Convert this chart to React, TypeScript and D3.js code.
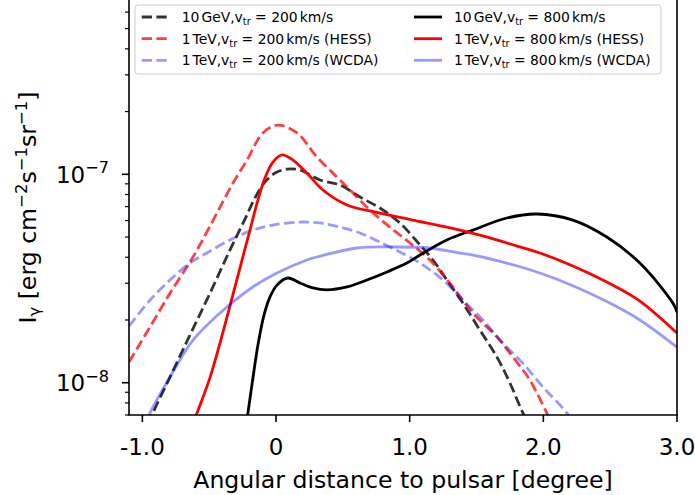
import React from "react";
import * as d3 from "d3";

// ---- data (x in degree, intensity in erg cm^-2 s^-1 sr^-1) ----
const gev10_200: [number, number][] = [
  [-0.95, 6.3e-9], [-0.92, 7.16e-9], [-0.793, 1.065e-8], [-0.644, 1.694e-8], [-0.494, 2.69e-8],
  [-0.345, 4.33e-8], [-0.232, 6.1e-8], [-0.158, 7.7e-8], [-0.083, 9.18e-8],
  [-0.008, 1.014e-7], [0.082, 1.06e-7], [0.179, 1.048e-7], [0.329, 9.39e-8], [0.478, 8.89e-8],
  [0.628, 7.78e-8], [0.777, 6.89e-8], [0.927, 5.84e-8], [1.077, 4.58e-8], [1.174, 3.88e-8],
  [1.278, 3.11e-8], [1.398, 2.41e-8], [1.525, 1.79e-8], [1.652, 1.33e-8], [1.75, 9.97e-9],
  [1.847, 7.16e-9], [1.9, 6.2e-9],
];
const tev1_200_hess: [number, number][] = [
  [-1.1, 1.257e-8], [-0.943, 1.85e-8], [-0.793, 2.69e-8], [-0.666, 3.6e-8], [-0.591, 4.33e-8],
  [-0.442, 6.52e-8], [-0.322, 9.08e-8], [-0.217, 1.17e-7], [-0.098, 1.58e-7], [0.014, 1.72e-7],
  [0.157, 1.58e-7], [0.306, 1.21e-7], [0.456, 9.7e-8], [0.553, 8.41e-8], [0.703, 6.74e-8],
  [0.852, 5.58e-8], [1.002, 4.68e-8], [1.151, 3.88e-8], [1.323, 2.88e-8], [1.473, 2.16e-8],
  [1.652, 1.66e-8], [1.772, 1.33e-8], [1.899, 1.03e-8], [2.026, 7.16e-9], [2.07, 6.3e-9],
];
const tev1_200_wcda: [number, number][] = [
  [-1.1, 1.87e-8], [-0.943, 2.49e-8], [-0.793, 3.11e-8], [-0.644, 3.75e-8], [-0.517, 4.19e-8],
  [-0.345, 4.84e-8], [-0.173, 5.4e-8], [-0.023, 5.71e-8], [0.179, 5.9e-8], [0.329, 5.84e-8],
  [0.478, 5.58e-8], [0.628, 5.23e-8], [0.777, 4.73e-8], [0.927, 4.24e-8], [1.077, 3.75e-8],
  [1.249, 3.11e-8], [1.398, 2.49e-8], [1.548, 2.0e-8], [1.697, 1.55e-8], [1.847, 1.24e-8],
  [1.997, 9.53e-9], [2.176, 7.16e-9], [2.22, 6.4e-9],
];
const gev10_800: [number, number][] = [
  [-0.22, 6.4e-9], [-0.21, 7.16e-9], [-0.173, 1.05e-8], [-0.135, 1.52e-8], [-0.09, 2.11e-8],
  [-0.045, 2.58e-8], [0.007, 2.94e-8], [0.089, 3.18e-8], [0.179, 3.01e-8], [0.276, 2.85e-8],
  [0.381, 2.79e-8], [0.531, 2.88e-8], [0.68, 3.11e-8], [0.83, 3.4e-8], [0.979, 3.75e-8],
  [1.077, 4.1e-8], [1.278, 4.84e-8], [1.473, 5.4e-8], [1.727, 6.17e-8], [1.952, 6.45e-8],
  [2.221, 6.03e-8], [2.475, 5.0e-8], [2.722, 3.75e-8], [2.969, 2.41e-8], [3.0, 2.18e-8],
];
const tev1_800_hess: [number, number][] = [
  [-0.62, 6.4e-9], [-0.591, 7.16e-9], [-0.494, 1.058e-8], [-0.419, 1.55e-8], [-0.345, 2.33e-8],
  [-0.27, 3.55e-8], [-0.195, 5.4e-8], [-0.135, 7.53e-8], [-0.083, 9.6e-8], [-0.023, 1.145e-7],
  [0.044, 1.24e-7], [0.127, 1.17e-7], [0.231, 1.014e-7], [0.351, 8.41e-8], [0.531, 7.13e-8],
  [0.777, 6.52e-8], [1.024, 6.03e-8], [1.278, 5.58e-8], [1.525, 5.11e-8], [1.727, 4.68e-8],
  [1.974, 4.19e-8], [2.221, 3.63e-8], [2.475, 3.04e-8], [2.722, 2.466e-8], [3.0, 1.73e-8],
];
const tev1_800_wcda: [number, number][] = [
  [-0.97, 6.4e-9], [-0.943, 7.16e-9], [-0.793, 1.065e-8], [-0.621, 1.6e-8], [-0.419, 2.16e-8],
  [-0.173, 2.88e-8], [0.007, 3.36e-8], [0.231, 3.88e-8], [0.306, 4.01e-8],
  [0.605, 4.43e-8], [0.904, 4.48e-8], [1.151, 4.43e-8], [1.376, 4.19e-8], [1.473, 4.1e-8],
  [1.727, 3.75e-8], [1.974, 3.36e-8], [2.221, 2.92e-8], [2.475, 2.45e-8], [2.722, 2.0e-8],
  [3.0, 1.48e-8],
];

const seriesNames = [
  { energy: "10", unit: "GeV", v: "200", extra: "" },
  { energy: "1", unit: "TeV", v: "200", extra: " (HESS)" },
  { energy: "1", unit: "TeV", v: "200", extra: " (WCDA)" },
  { energy: "10", unit: "GeV", v: "800", extra: "" },
  { energy: "1", unit: "TeV", v: "800", extra: " (HESS)" },
  { energy: "1", unit: "TeV", v: "800", extra: " (WCDA)" },
];
const seriesData = [gev10_200, tev1_200_hess, tev1_200_wcda, gev10_800, tev1_800_hess, tev1_800_wcda];
const seriesColors = ["#000000", "#ff0000", "#0000ff", "#000000", "#ff0000", "#0000ff"];
const seriesAlpha = [0.8, 0.75, 0.4, 1, 1, 0.4];
const seriesDashed = [true, true, true, false, false, false];

const xTickValues = [-1, 0, 1, 2, 3];
const xTickLabels = ["-1.0", "0", "1.0", "2.0", "3.0"];
const yMajorTicks = [1e-8, 1e-7];
const yMajorExp = ["\u22128", "\u22127"];
const yMinorTicks = [7e-9, 8e-9, 9e-9, 2e-8, 3e-8, 4e-8, 5e-8, 6e-8, 7e-8, 8e-8, 9e-8, 2e-7, 3e-7, 4e-7, 5e-7, 6e-7];

const W = 695, H = 495;
const L = 129, R = 677, T = 0, B = 415;
const FONT = "DejaVu Sans, sans-serif";
const LW = 2.8;

export default function App() {
  const x = d3.scaleLinear().domain([-1.1, 3.0]).range([L, R]);
  const y = d3.scaleLog().domain([7e-9, 6.86e-7]).range([B, T]);
  const line = d3
    .line<[number, number]>()
    .x((d) => x(d[0]))
    .y((d) => y(d[1]))
    .curve(d3.curveCatmullRom.alpha(0.5));
  const dash = "10.3 4.4";

  const legendRows = [17, 38.7, 60.3];
  const legendCols = [
    { hx: 141.7, tx: 181.7 },
    { hx: 414, tx: 454 },
  ];
  const lfs = 13.9;

  return (
    <svg width={W} height={H} style={{ position: "absolute", left: 0, top: 0, background: "#fff" }} fontFamily={FONT}>
      <rect x={0} y={0} width={W} height={H} fill="#fff" />
      <defs>
        <clipPath id="plotclip">
          <rect x={L} y={T - 5} width={R - L} height={B - T + 5} />
        </clipPath>
      </defs>
      <g clipPath="url(#plotclip)">
        {seriesData.map((d, i) => (
          <path
            key={i}
            d={line(d) || ""}
            fill="none"
            stroke={seriesColors[i]}
            strokeOpacity={seriesAlpha[i]}
            strokeWidth={LW}
            strokeDasharray={seriesDashed[i] ? dash : undefined}
          />
        ))}
      </g>
      {/* spines */}
      <line x1={L} y1={T - 2} x2={L} y2={B} stroke="#000" strokeWidth={1.6} />
      <line x1={R} y1={T - 2} x2={R} y2={B} stroke="#000" strokeWidth={1.6} />
      <line x1={L - 0.8} y1={B} x2={R + 0.8} y2={B} stroke="#000" strokeWidth={1.6} />
      {/* x ticks */}
      {xTickValues.map((v, i) => (
        <g key={i}>
          <line x1={x(v)} x2={x(v)} y1={B} y2={B + 7} stroke="#000" strokeWidth={1.6} />
          <text x={x(v)} y={455} fontSize={23} textAnchor="middle" fill="#000">
            {xTickLabels[i]}
          </text>
        </g>
      ))}
      {/* y ticks */}
      {yMinorTicks.map((v, i) => (
        <line key={"m" + i} x1={L - 4} x2={L} y1={y(v)} y2={y(v)} stroke="#000" strokeWidth={1.2} />
      ))}
      {yMajorTicks.map((v, i) => (
        <g key={"M" + i}>
          <line x1={L - 7} x2={L} y1={y(v)} y2={y(v)} stroke="#000" strokeWidth={1.6} />
          <text x={109} y={y(v) + 8.5} fontSize={23} textAnchor="end" fill="#000">
            10
            <tspan dy={-9.5} fontSize={16.1}>
              {yMajorExp[i]}
            </tspan>
          </text>
        </g>
      ))}
      {/* axis labels */}
      <text x={(L + R) / 2} y={488} fontSize={23.6} textAnchor="middle" fill="#000">
        Angular distance to pulsar [degree]
      </text>
      <text transform={`translate(36,${(T + B) / 2}) rotate(-90)`} fontSize={23.6} textAnchor="middle" fill="#000">
        I
        <tspan dy={4} fontSize={16.5}>γ</tspan>
        <tspan dy={-4}> [erg cm</tspan>
        <tspan dy={-9} fontSize={16.5}>{"\u22122"}</tspan>
        <tspan dy={9}>s</tspan>
        <tspan dy={-9} fontSize={16.5}>{"\u22121"}</tspan>
        <tspan dy={9}>sr</tspan>
        <tspan dy={-9} fontSize={16.5}>{"\u22121"}</tspan>
        <tspan dy={9}>]</tspan>
      </text>
      {/* legend */}
      <rect x={135} y={5} width={526} height={69} rx={3} fill="#fff" fillOpacity={0.8} stroke="#cccccc" strokeWidth={1} />
      {seriesNames.map((s, i) => {
        const col = legendCols[Math.floor(i / 3)];
        const ry = legendRows[i % 3];
        return (
          <g key={"leg" + i}>
            <line
              x1={col.hx}
              x2={col.hx + 28}
              y1={ry}
              y2={ry}
              stroke={seriesColors[i]}
              strokeOpacity={seriesAlpha[i]}
              strokeWidth={LW}
              strokeDasharray={seriesDashed[i] ? dash : undefined}
            />
            <text x={col.tx} y={ry + 5} fontSize={lfs} fill="#000">
              {s.energy}
              <tspan dx={2}>{s.unit},v</tspan>
              <tspan dy={3} fontSize={lfs * 0.7}>tr</tspan>
              <tspan dy={-3}> = {s.v}</tspan>
              <tspan dx={2}>km/s{s.extra}</tspan>
            </text>
          </g>
        );
      })}
    </svg>
  );
}
